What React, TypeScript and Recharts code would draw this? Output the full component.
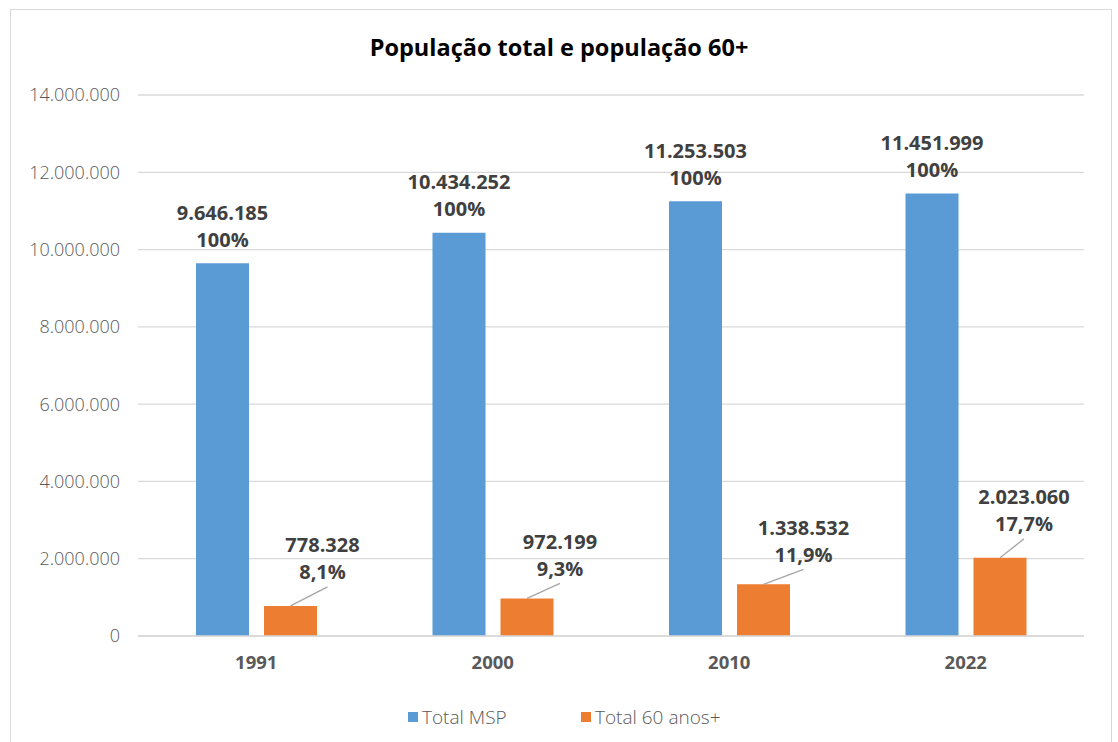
import { Bar, BarChart, CartesianGrid, LabelList, XAxis, YAxis } from 'recharts';

const years = ['1991', '2000', '2010', '2022'];
const totalMsp = [9646185, 10434252, 11253503, 11451999];
const total60 = [778328, 972199, 1338532, 2023060];
const pctMsp = ['100%', '100%', '100%', '100%'];
const pct60 = ['8,1%', '9,3%', '11,9%', '17,7%'];
const yTicks = [0, 2000000, 4000000, 6000000, 8000000, 10000000, 12000000, 14000000];

// where each orange label sits, relative to the top centre of its bar (manually placed, like in Excel)
const orangeLabelPos = [
  { dx: 32, dy: -61, lx: 37, ly: -19 },
  { dx: 33, dy: -57, lx: 33, ly: -15 },
  { dx: 40, dy: -57, lx: 40, ly: -15 },
  { dx: 24, dy: -61, lx: 24, ly: -19 },
];

const BLUE = '#5B9BD5';
const ORANGE = '#ED7D31';
const FONT = '"Open Sans", "Noto Sans", sans-serif';

const data = years.map((year, i) => ({ year, msp: totalMsp[i], sixty: total60[i] }));

const fmt = (v: number) => String(v).replace(/\B(?=(\d{3})+(?!\d))/g, '.');

const labelStyle = { fontFamily: FONT, fontSize: 20, fontWeight: 700, fill: '#404040' };

const BlueLabel = (props: any) => {
  const { x, y, width, index } = props;
  const cx = x + width / 2;
  return (
    <g>
      <text x={cx} y={y - 51} textAnchor="middle" dominantBaseline="central" {...labelStyle}>
        {fmt(totalMsp[index])}
      </text>
      <text x={cx} y={y - 24} textAnchor="middle" dominantBaseline="central" {...labelStyle}>
        {pctMsp[index]}
      </text>
    </g>
  );
};

const OrangeLabel = (props: any) => {
  const { x, y, width, index } = props;
  const cx = x + width / 2;
  const p = orangeLabelPos[index];
  return (
    <g>
      <line x1={cx} y1={y} x2={cx + p.lx} y2={y + p.ly} stroke="#a6a6a6" strokeWidth={1.3} />
      <text x={cx + p.dx} y={y + p.dy} textAnchor="middle" dominantBaseline="central" {...labelStyle}>
        {fmt(total60[index])}
      </text>
      <text x={cx + p.dx} y={y + p.dy + 27} textAnchor="middle" dominantBaseline="central" {...labelStyle}>
        {pct60[index]}
      </text>
    </g>
  );
};

export default function App() {
  return (
    <div style={{ position: 'absolute', left: 0, top: 0, width: 1118, height: 742, background: '#fff', overflow: 'hidden' }}>
      <div
        style={{
          position: 'absolute',
          left: 10,
          top: 9,
          width: 1102,
          height: 760,
          border: '1.5px solid #d9d9d9',
          boxSizing: 'border-box',
        }}
      />
      <div
        style={{
          position: 'absolute',
          left: 0,
          top: 31,
          width: 1118,
          textAlign: 'center',
          fontFamily: FONT,
          fontSize: 23.5,
          fontWeight: 700,
          color: '#000',
          lineHeight: '32px',
        }}
      >
        População total e população 60+
      </div>
      <div style={{ position: 'absolute', left: 0, top: 0 }}>
        <BarChart
          width={1118}
          height={742}
          data={data}
          margin={{ top: 95, right: 34, bottom: 76, left: 0 }}
          barSize={53}
          barGap={15}
        >
          <CartesianGrid vertical={false} stroke="#d9d9d9" strokeWidth={1.3} />
          <XAxis
            dataKey="year"
            height={30}
            axisLine={{ stroke: '#d9d9d9', strokeWidth: 1.3 }}
            tickLine={false}
            tickMargin={14}
            tick={{ fontFamily: FONT, fontSize: 18.5, fontWeight: 700, fill: '#595959' }}
          />
          <YAxis
            width={138}
            domain={[0, 14000000]}
            ticks={yTicks}
            axisLine={false}
            tickLine={false}
            tickMargin={12}
            tickFormatter={fmt}
            tick={{ fontFamily: FONT, fontSize: 18, fontWeight: 300, fill: '#595959' }}
          />
          <Bar dataKey="msp" name="Total MSP" fill={BLUE} isAnimationActive={false}>
            <LabelList dataKey="msp" content={<BlueLabel />} />
          </Bar>
          <Bar dataKey="sixty" name="Total 60 anos+" fill={ORANGE} isAnimationActive={false}>
            <LabelList dataKey="sixty" content={<OrangeLabel />} />
          </Bar>
        </BarChart>
      </div>
      <div style={{ position: 'absolute', left: 0, top: 703, width: 1118, height: 28, fontFamily: FONT, fontSize: 19, fontWeight: 300, color: '#595959' }}>
        <div style={{ position: 'absolute', left: 408, top: 9, width: 10, height: 10, background: BLUE }} />
        <span style={{ position: 'absolute', left: 422, top: 0, lineHeight: '28px' }}>Total MSP</span>
        <div style={{ position: 'absolute', left: 581, top: 9, width: 10, height: 10, background: ORANGE }} />
        <span style={{ position: 'absolute', left: 595, top: 0, lineHeight: '28px' }}>Total 60 anos+</span>
      </div>
    </div>
  );
}
